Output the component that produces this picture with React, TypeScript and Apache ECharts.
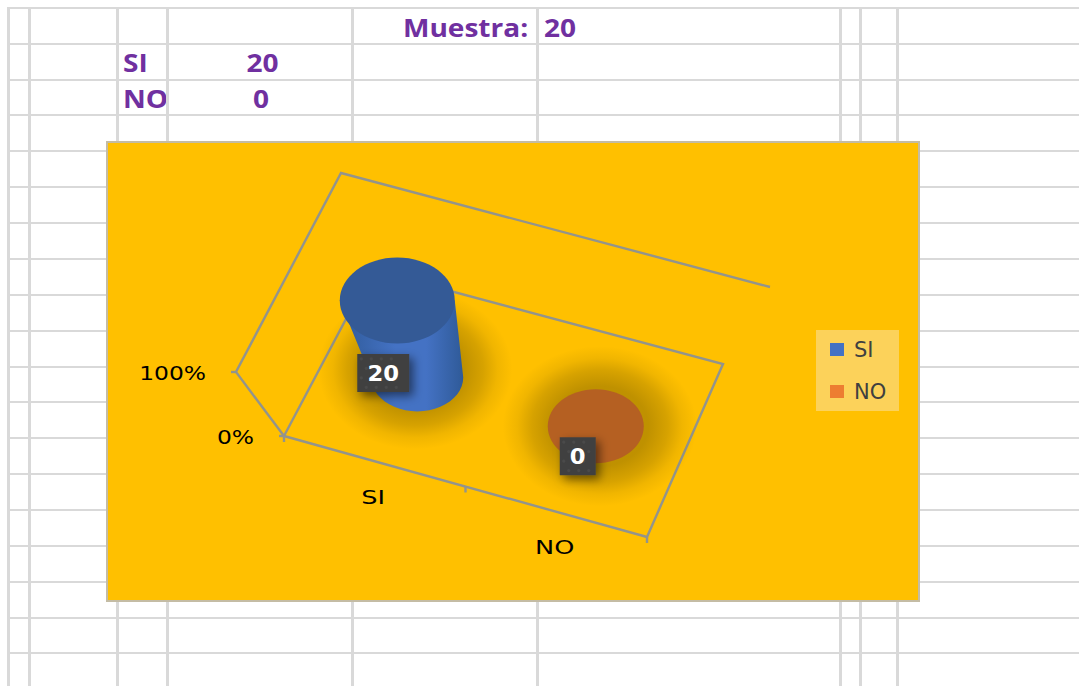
import React, { useEffect, useRef } from "react";
import * as echarts from "echarts";

// ---- data ----
const categories = ["SI", "NO"];
const counts = [20, 0];
const sampleSize = 20;
const sampleLabel = "Muestra:";
const valueAxisLabels = ["0%", "100%"];
const valueAxisTicks = [0, 1];

// ---- sheet layout ----
const sheetColumns = [8.5, 29.5, 117.5, 167.5, 352.5, 537.5, 840.5, 860.5, 897.5];
const sheetRows = [8, 44, 80, 115, 151, 187, 223, 259, 295, 331, 367, 402, 438, 474, 510, 546, 582, 618, 653];

// ---- colours ----
const seriesColors = ["#4472c4", "#ed7d31"];
const capColors = ["#345a96", "#b56022"];
const bodyEdge = "#2f5a98";
const purple = "#7030a0";

// ---- 3D wall/floor corners as the reference's projection [x, y] ----
const floorFL = [284, 436], floorFR = [647, 537], floorBR = [723, 364], floorBL = [372, 270];
const topFL = [236, 372], topFR = [677, 481], topBR = [770, 287], topBL = [341, 173];
const lerp = (a: number[], b: number[], t: number) => [a[0] + (b[0] - a[0]) * t, a[1] + (b[1] - a[1]) * t];
const project = (u: number, d: number, h: number) => {
  const floor = lerp(lerp(floorFL, floorFR, u), lerp(floorBL, floorBR, u), d);
  const top = lerp(lerp(topFL, topFR, u), lerp(topBL, topBR, u), d);
  return lerp(floor, top, h);
};

const norm = (api: any, params: any, cat: number, v: number) => {
  const c = api.coord([cat, v]);
  const r = params.coordSys;
  return [(c[0] - r.x) / r.width, 1 - (c[1] - r.y) / r.height];
};

const labelOffsets = [[-24, 34], [-18, 30]];
const labelWidths = [52, 36];

const frameRender = (params: any, api: any) => {
  const line = "#93948c";
  const poly = (pts: number[][]) => ({ type: "polyline", shape: { points: pts }, style: { stroke: line, lineWidth: 2.4, fill: "none" } });
  const children: any[] = [
    poly([floorFL, floorFR, floorBR, floorBL, floorFL]),
    poly([floorFL, topFL, topBL, topBR]),
  ];
  // value-axis ticks and labels
  valueAxisTicks.forEach((t, i) => {
    const [, h] = norm(api, params, 0, t);
    const p = project(0, 0, h);
    children.push(poly([[p[0] - 5, p[1]], p]));
    children.push({
      type: "text", x: p[0] - 30, y: p[1] + 1, scaleX: 1.17,
      style: { text: valueAxisLabels[i], align: "right", verticalAlign: "middle", fill: "#000", font: "20px 'DejaVu Sans'" },
    });
  });
  // category ticks
  [0, 0.5, 1].forEach((u) => {
    const p = project(u, 0, 0);
    children.push(poly([p, [p[0], p[1] + 6]]));
  });
  // category labels
  categories.forEach((name, i) => {
    const [u] = norm(api, params, i, 0);
    const p = project(u, 0, 0);
    children.push({
      type: "text", x: p[0] - 1.5, y: p[1] + 35.5, scaleX: 1.28,
      style: { text: name, align: "center", verticalAlign: "middle", fill: "#000", font: "20px 'DejaVu Sans'" },
    });
  });
  return { type: "group", children };
};

const glow = (cx: number, cy: number, rx: number, ry: number) => ({
  type: "ellipse",
  shape: { cx, cy, rx, ry },
  style: {
    fill: new echarts.graphic.RadialGradient(0.5, 0.5, 0.5, [
      { offset: 0, color: "rgba(110,85,0,0.46)" },
      { offset: 0.5, color: "rgba(110,85,0,0.44)" },
      { offset: 0.7, color: "rgba(110,85,0,0.28)" },
      { offset: 0.85, color: "rgba(110,85,0,0.1)" },
      { offset: 1, color: "rgba(110,85,0,0)" },
    ]),
  },
});

const makeRender = (i: number) => (params: any, api: any) => {
  const cat = api.value(0);
  const [u, h] = norm(api, params, cat, api.value(1));
  const base = project(u, 0.5, 0);
  const cap = project(u, 0.5, h);
  const rxB = h > 0 ? 46 : 48;
  const ryB = h > 0 ? 34 : 37;
  const rxT = rxB + 11.5 * h;
  const ryT = ryB + 9 * h;
  const children: any[] = [];
  children.push(glow(base[0] + (h > 0 ? -2 : 4), base[1] + (h > 0 ? -8 : 0), 97, 80));
  if (h > 0) {
    const pts: number[][] = [[cap[0] - rxT, cap[1]], [cap[0] + rxT, cap[1]]];
    for (let k = 0; k <= 24; k++) {
      const a = (Math.PI * k) / 24;
      pts.push([base[0] + rxB * Math.cos(a), base[1] + ryB * Math.sin(a)]);
    }
    children.push({
      type: "polygon",
      shape: { points: pts },
      style: {
        fill: new echarts.graphic.LinearGradient(0, 0, 1, 0, [
          { offset: 0, color: bodyEdge },
          { offset: 0.45, color: seriesColors[i] },
          { offset: 0.7, color: seriesColors[i] },
          { offset: 1, color: bodyEdge },
        ]),
      },
    });
  }
  children.push({ type: "ellipse", shape: { cx: cap[0], cy: cap[1], rx: rxT, ry: ryT }, style: { fill: capColors[i] } });

  // data label
  const mid = project(u, 0.5, h / 2);
  const w = labelWidths[i], lh = 38;
  const lx = mid[0] + labelOffsets[i][0], ly = mid[1] + labelOffsets[i][1];
  children.push({
    type: "rect", shape: { x: lx - w / 2, y: ly - lh / 2, width: w, height: lh },
    style: { fill: "#404040", shadowBlur: 10, shadowColor: "rgba(0,0,0,0.5)", shadowOffsetX: 4, shadowOffsetY: 4 },
  });
  for (let a = 0; a < Math.floor((w - 4) / 10); a++) {
    for (let b = 0; b < 4; b++) {
      children.push({
        type: "circle",
        shape: { cx: lx - w / 2 + 4 + a * 10 + (b % 2) * 5, cy: ly - lh / 2 + 5 + b * 9.5, r: 1.6 },
        style: { fill: "#4a4a4a" },
      });
    }
  }
  children.push({
    type: "text", x: lx, y: ly + 1, scaleX: 1.08,
    style: { text: String(api.value(2)), align: "center", verticalAlign: "middle", fill: "#fff", font: "bold 21px 'DejaVu Sans'" },
  });
  return { type: "group", children };
};

const tableText = (text: string, x: number, y: number, align = "left") => ({
  type: "text", x, y, z: 1, scaleX: 1.1,
  style: { text, align, verticalAlign: "middle", fill: purple, font: "bold 25.5px 'Open Sans'" },
});

export default function App() {
  const ref = useRef<HTMLDivElement>(null);
  useEffect(() => {
    document.body.style.margin = "0";
    const chart = echarts.init(ref.current!, null, { renderer: "svg" });
    const sheet: any[] = [
      ...sheetRows.map((y) => ({ type: "line", z: 2, shape: { x1: 7, y1: y, x2: 1079, y2: y }, style: { stroke: "#d9d9d9", lineWidth: 2 } })),
      ...sheetColumns.map((x) => ({ type: "line", z: 2, shape: { x1: x, y1: 7, x2: x, y2: 686 }, style: { stroke: "#d9d9d9", lineWidth: 3 } })),
      tableText(sampleLabel, 403, 27),
      tableText(String(sampleSize), 544, 27),
      tableText(categories[0], 123, 62),
      tableText(String(counts[0]), 262.5, 62, "center"),
      tableText(categories[1], 123, 98),
      tableText(String(counts[1]), 261, 98, "center"),
      { type: "rect", z: 3, shape: { x: 107, y: 142, width: 812, height: 459 }, style: { fill: "#ffc000", stroke: "#c4bca4", lineWidth: 2 } },
      { type: "rect", z: 4, shape: { x: 816, y: 330, width: 83, height: 81 }, style: { fill: "#fcd25a" } },
    ];
    const total = counts.reduce((a, b) => a + b, 0);
    chart.setOption({
      animation: false,
      graphic: { elements: sheet },
      grid: { left: 300, top: 200, width: 300, height: 200, show: false },
      xAxis: { type: "category", data: categories, show: false },
      yAxis: { type: "value", min: 0, max: 1, show: false },
      legend: {
        orient: "vertical", left: 820, top: 333, padding: [6, 0, 0, 10], itemWidth: 14, itemHeight: 13, itemGap: 21,
        icon: "rect", data: categories, z: 20, selectedMode: false,
        textStyle: { color: "#404040", fontFamily: "DejaVu Sans", fontSize: 21, padding: [2, 0, 0, 5] },
      },
      series: [
        { type: "custom", name: "frame", coordinateSystem: "cartesian2d", z: 5, silent: true, clip: false, data: [[0, 0]], renderItem: frameRender },
        ...categories.map((name, i) => ({
          type: "custom", name, coordinateSystem: "cartesian2d", z: 6 + i, silent: true, clip: false,
          itemStyle: { color: seriesColors[i] },
          encode: { x: 0, y: 1 },
          data: [[i, counts[i] / total, counts[i]]],
          renderItem: makeRender(i),
        })),
      ],
    });
    return () => chart.dispose();
  }, []);
  return <div ref={ref} style={{ position: "absolute", left: 0, top: 0, width: 1079, height: 686, background: "#fff" }} />;
}
